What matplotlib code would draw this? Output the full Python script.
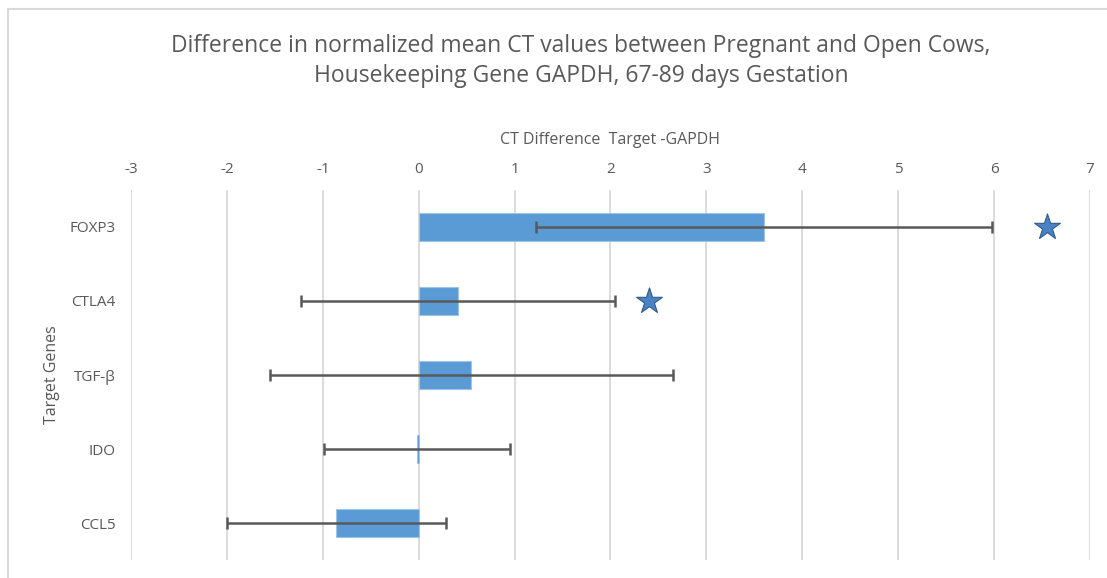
import numpy as np
import matplotlib.pyplot as plt
from matplotlib.patches import Rectangle

plt.rcParams['font.family'] = ['Open Sans', 'DejaVu Sans']
plt.rcParams['axes.unicode_minus'] = False

genes = ['FOXP3', 'CTLA4', 'TGF-β', 'IDO', 'CCL5']
ct_diff = [3.60, 0.41, 0.55, -0.02, -0.86]
err = [2.38, 1.64, 2.10, 0.97, 1.14]
# significance stars: gene index and x position
star_idx = [0, 1]
star_x = [6.55, 2.40]

xticks = np.arange(-3, 8, 1)

text_col = '#595959'

fig = plt.figure(figsize=(11.07, 5.78), dpi=100)
fig.patches.append(Rectangle((0.0072, -0.05), 1.05, 1.0344, transform=fig.transFigure,
                             fill=False, edgecolor='#D9D9D9', linewidth=1.5))

ax = fig.add_axes([0.1183, 0.0311, 0.8663, 0.6402])

y = np.arange(len(genes))
ax.barh(y, ct_diff, height=0.37, color='#5B9BD5', edgecolor='#9DC3E6', linewidth=0.8, zorder=2)
ax.errorbar(ct_diff, y, xerr=err, fmt='none', ecolor=text_col, elinewidth=1.8,
            capsize=4.5, capthick=1.8, zorder=3)
ax.scatter(star_x, [y[i] for i in star_idx], marker='*', s=380, color='#4A82C3',
           edgecolor='#2E5C8A', linewidth=0.8, zorder=4)

ax.set_xlim(-3, 7.0)
ax.set_ylim(4.5, -0.5)
ax.set_xticks(xticks)
ax.set_yticks(y)
ax.set_yticklabels(genes)
ax.xaxis.tick_top()
ax.tick_params(axis='both', length=0, colors=text_col, labelsize=11)
ax.tick_params(axis='x', pad=9)
ax.tick_params(axis='y', pad=11)
ax.grid(axis='x', color='#D9D9D9', linewidth=1.3, zorder=0)
for s in ax.spines.values():
    s.set_visible(False)

ax.set_xlabel('CT Difference  Target -GAPDH', color=text_col, fontsize=11.5)
ax.xaxis.set_label_position('top')
ax.xaxis.set_label_coords(0.5, 1.135)
ax.xaxis.label.set_va('center')
ax.set_ylabel('Target Genes', color=text_col, fontsize=11.5)
ax.yaxis.set_label_coords(-0.0824, 0.5)
ax.yaxis.label.set_va('center')

fig.text(0.525, 0.894, 'Difference in normalized mean CT values between Pregnant and Open Cows,\n'
         'Housekeeping Gene GAPDH, 67-89 days Gestation', ha='center', va='center',
         fontsize=16.5, color=text_col, linespacing=1.35)

fig.savefig('out.png', dpi=100)
